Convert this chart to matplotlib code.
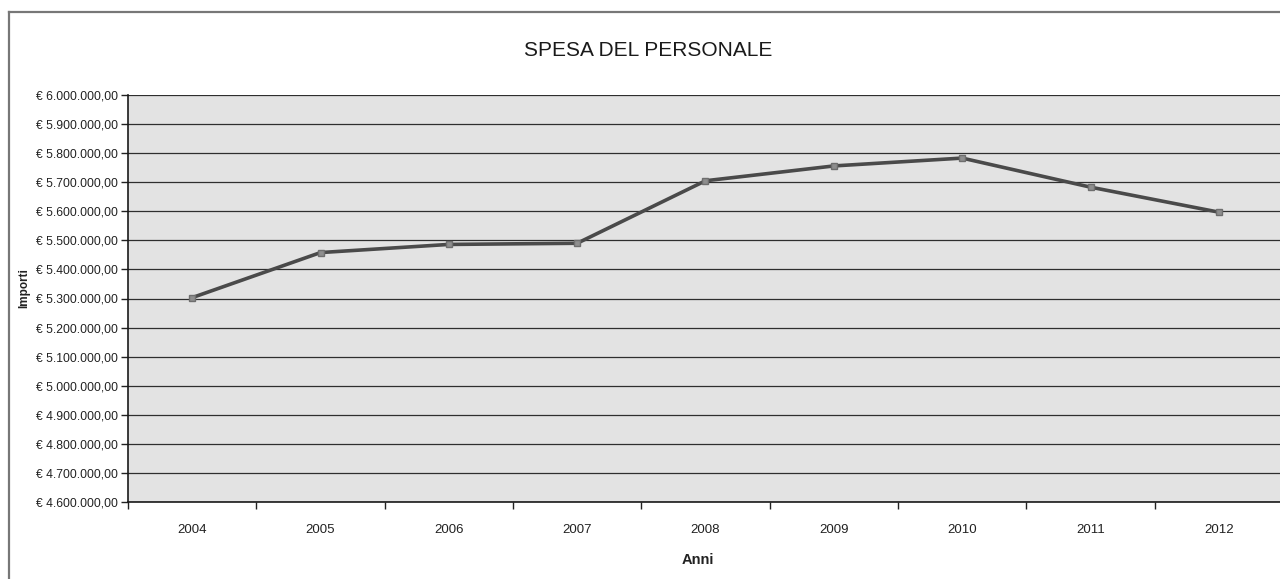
import matplotlib
matplotlib.use('Agg')
import matplotlib.pyplot as plt
from matplotlib.ticker import FuncFormatter, FixedLocator
from matplotlib.lines import Line2D

plt.rcParams['font.family'] = ['Liberation Sans', 'DejaVu Sans']

# Data
anni = ['2004', '2005', '2006', '2007', '2008', '2009', '2010', '2011', '2012']
importi = [5303000, 5458000, 5486000, 5490000, 5705000, 5756000, 5783000, 5683000, 5597000]

y_min, y_max, y_step = 4600000, 6000000, 100000


def euro(v, pos=None):
    s = f"{v:,.2f}"
    s = s.replace(',', 'X').replace('.', ',').replace('X', '.')
    return f"€ {s}"


fig = plt.figure(figsize=(12.8, 5.79), dpi=100)
fig.patch.set_facecolor('white')

ax = fig.add_axes([128 / 1280, 77 / 579, 1155 / 1280, 407 / 579])
ax.set_facecolor('#e3e3e3')

x = list(range(len(anni)))
ax.plot(x, importi, color='#4a4a4a', linewidth=2.6, marker='s', markersize=4.5,
        markerfacecolor='#8e8e8e', markeredgecolor='#6e6e6e', zorder=3)

ax.set_xlim(-0.5, len(anni) - 0.5)
ax.set_ylim(y_min, y_max)
ax.set_yticks(range(y_min, y_max + 1, y_step))
ax.yaxis.set_major_formatter(FuncFormatter(euro))
ax.grid(axis='y', color='#2e2e2e', linewidth=0.9)
ax.set_axisbelow(True)

# category labels centred, tick marks between categories
ax.set_xticks(x)
ax.set_xticklabels(anni)
ax.xaxis.set_minor_locator(FixedLocator([i - 0.5 for i in range(len(anni) + 1)]))
ax.tick_params(axis='x', which='major', length=0, pad=16, labelsize=9.5, colors='#222222')
ax.tick_params(axis='x', which='minor', length=5, width=1, color='#222222', direction='out')
ax.tick_params(axis='y', length=5, width=1, pad=2, labelsize=8.7, colors='#222222')

for side in ['top', 'right']:
    ax.spines[side].set_visible(False)
for side in ['left', 'bottom']:
    ax.spines[side].set_color('#1a1a1a')
    ax.spines[side].set_linewidth(1.2)

ax.set_xlabel('Anni', fontsize=10.5, fontweight='bold', color='#222222')
ax.xaxis.set_label_coords((698 - 128) / 1155, -0.125)
ax.set_ylabel('Importi', fontsize=8.5, fontweight='bold', color='#222222')
ax.yaxis.set_label_coords((30 - 128) / 1155, (502 - 288) / 407)

fig.text(648 / 1280, 1 - 50 / 579, 'SPESA DEL PERSONALE', ha='center', va='center',
         fontsize=15, color='#1a1a1a')

# outer chart border (left and top edges visible in the scan)
top_y = 1 - 12 / 579
fig.add_artist(Line2D([9 / 1280, 9 / 1280], [0, top_y], color='#777777', linewidth=1.6,
                      transform=fig.transFigure))
fig.add_artist(Line2D([9 / 1280, 1.0], [top_y, top_y], color='#777777', linewidth=1.6,
                      transform=fig.transFigure))

fig.savefig('out.png', dpi=100)
